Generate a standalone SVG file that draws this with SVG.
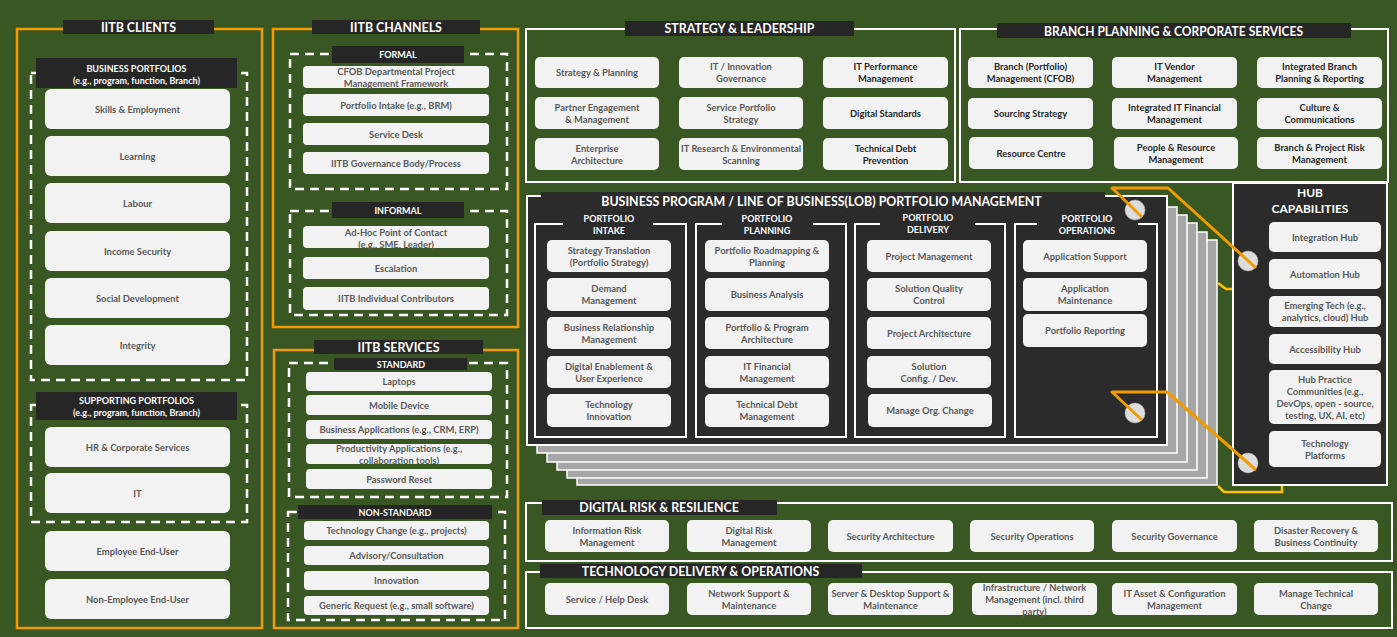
<svg xmlns="http://www.w3.org/2000/svg" width="1397" height="637" viewBox="0 0 1397 637">
<style>
.bg{fill:#385723}
.org{fill:none;stroke:#f29b00;stroke-width:2.5}
.dash{fill:none;stroke:#fff;stroke-width:2.5;stroke-dasharray:9 6}
.wb{fill:none;stroke:#fff;stroke-width:2}
.lbl{fill:#262626}
.dk{fill:#2b2b2b}
.it{fill:#f2f2f2}
text{font-family:Lato,"Liberation Sans",sans-serif;text-anchor:middle}
.t{font-size:9.4px;font-weight:700;fill:#595959}
.td{font-size:9.4px;font-weight:700;fill:#262626}
.h{font-size:12.4px;font-weight:700;fill:#fff}
.hs{font-size:9px;font-weight:700;fill:#fff}
.layer{fill:#a6a6a6;stroke:#fff;stroke-width:1.5}
.conn{fill:none;stroke:#f29b00;stroke-width:3;stroke-linejoin:round}
.brk{fill:none;stroke:#ffc000;stroke-width:2.5}
.dot{fill:#dcdcdc;stroke:#bfbfbf;stroke-width:0.5}
</style>
<rect class="bg" x="0" y="0" width="1397" height="637"/>

<!-- IITB CLIENTS -->
<g id="iitb-clients">
<rect class="org" x="17" y="29" width="245" height="599"/>
<rect class="lbl" x="63" y="20" width="151" height="14"/>
<text class="h" x="138.5" y="31.5">IITB CLIENTS</text>
<rect class="dash" x="31" y="73" width="216" height="307"/>
<rect class="lbl" x="36" y="58" width="201" height="30"/>
<text class="hs" x="136.5" y="71.5">BUSINESS PORTFOLIOS</text>
<text class="hs" x="136.5" y="83.5">(e.g., program, function, Branch)</text>
<rect class="it" x="45" y="89" width="185" height="40" rx="6"/><text class="t" x="137.5" y="112.5">Skills &amp; Employment</text>
<rect class="it" x="45" y="136" width="185" height="40" rx="6"/><text class="t" x="137.5" y="159.5">Learning</text>
<rect class="it" x="45" y="183" width="185" height="40" rx="6"/><text class="t" x="137.5" y="206.5">Labour</text>
<rect class="it" x="45" y="231" width="185" height="40" rx="6"/><text class="t" x="137.5" y="254.5">Income Security</text>
<rect class="it" x="45" y="278" width="185" height="40" rx="6"/><text class="t" x="137.5" y="301.5">Social Development</text>
<rect class="it" x="45" y="325" width="185" height="40" rx="6"/><text class="t" x="137.5" y="348.5">Integrity</text>
<rect class="dash" x="31" y="405" width="216" height="117"/>
<rect class="lbl" x="36" y="392" width="201" height="28"/>
<text class="hs" x="136.5" y="403.5">SUPPORTING PORTFOLIOS</text>
<text class="hs" x="136.5" y="415.5">(e.g., program, function, Branch)</text>
<rect class="it" x="45" y="427" width="185" height="40" rx="6"/><text class="t" x="137.5" y="450.5">HR &amp; Corporate Services</text>
<rect class="it" x="45" y="473" width="185" height="40" rx="6"/><text class="t" x="137.5" y="496.5">IT</text>
<rect class="it" x="45" y="531" width="185" height="40" rx="6"/><text class="t" x="137.5" y="554.5">Employee End-User</text>
<rect class="it" x="45" y="579" width="185" height="40" rx="6"/><text class="t" x="137.5" y="602.5">Non-Employee End-User</text>
</g>

<!-- IITB CHANNELS -->
<g id="iitb-channels">
<rect class="org" x="273" y="29" width="245" height="298"/>
<rect class="lbl" x="312" y="20" width="168" height="14"/>
<text class="h" x="396" y="31.5">IITB CHANNELS</text>
<rect class="dash" x="290" y="54" width="217" height="135"/>
<rect class="lbl" x="332" y="46" width="132" height="17"/>
<text class="hs" x="398" y="58">FORMAL</text>
<rect class="it" x="303" y="66" width="186" height="22" rx="4"/>
<text class="t" x="396" y="74.5">CFOB Departmental Project</text><text class="t" x="396" y="86.5">Management Framework</text>
<rect class="it" x="303" y="94" width="186" height="22" rx="4"/><text class="t" x="396" y="108.5">Portfolio Intake (e.g., BRM)</text>
<rect class="it" x="303" y="123" width="186" height="22" rx="4"/><text class="t" x="396" y="137.5">Service Desk</text>
<rect class="it" x="303" y="152" width="186" height="22" rx="4"/><text class="t" x="396" y="166.5">IITB Governance Body/Process</text>
<rect class="dash" x="290" y="211" width="217" height="104"/>
<rect class="lbl" x="332" y="202" width="132" height="16"/>
<text class="hs" x="398" y="213.5">INFORMAL</text>
<rect class="it" x="303" y="226" width="186" height="22" rx="4"/>
<text class="t" x="396" y="235.5">Ad-Hoc Point of Contact</text><text class="t" x="396" y="247.5">(e.g., SME, Leader)</text>
<rect class="it" x="303" y="257" width="186" height="22" rx="4"/><text class="t" x="396" y="271.5">Escalation</text>
<rect class="it" x="303" y="287" width="186" height="23" rx="4"/><text class="t" x="396" y="302">IITB Individual Contributors</text>
</g>

<!-- IITB SERVICES -->
<g id="iitb-services">
<rect class="org" x="274" y="350" width="244" height="278"/>
<rect class="lbl" x="314" y="340" width="169" height="14"/>
<text class="h" x="398.5" y="351.5">IITB SERVICES</text>
<rect class="dash" x="289" y="363" width="218" height="134"/>
<rect class="lbl" x="334" y="358" width="133" height="12"/>
<text class="hs" x="401" y="367.5">STANDARD</text>
<rect class="it" x="306" y="372" width="186" height="19" rx="4"/><text class="t" x="399" y="385">Laptops</text>
<rect class="it" x="306" y="395" width="186" height="20" rx="4"/><text class="t" x="399" y="408.5">Mobile Device</text>
<rect class="it" x="306" y="420" width="186" height="19" rx="4"/><text class="t" x="399" y="433">Business Applications (e.g., CRM, ERP)</text>
<rect class="it" x="306" y="444" width="186" height="20" rx="4"/>
<text class="t" x="399" y="451.5">Productivity Applications (e.g.,</text><text class="t" x="399" y="463.5">collaboration tools)</text>
<rect class="it" x="306" y="469" width="186" height="20" rx="4"/><text class="t" x="399" y="482.5">Password Reset</text>
<rect class="dash" x="288" y="512" width="217" height="108"/>
<rect class="lbl" x="298" y="505" width="194" height="14"/>
<text class="hs" x="395" y="515.5">NON-STANDARD</text>
<rect class="it" x="304" y="521" width="185" height="19" rx="4"/><text class="t" x="396.5" y="534">Technology Change (e.g., projects)</text>
<rect class="it" x="304" y="546" width="185" height="19" rx="4"/><text class="t" x="396.5" y="559">Advisory/Consultation</text>
<rect class="it" x="304" y="571" width="185" height="19" rx="4"/><text class="t" x="396.5" y="584">Innovation</text>
<rect class="it" x="304" y="596" width="185" height="19" rx="4"/><text class="t" x="396.5" y="609">Generic Request (e.g., small software)</text>
</g>

<!-- STRATEGY & LEADERSHIP -->
<g id="strategy-leadership">
<rect class="wb" x="526" y="29" width="429" height="153"/>
<rect class="lbl" x="625" y="21" width="229" height="15"/>
<text class="h" x="739.5" y="33">STRATEGY &amp; LEADERSHIP</text>
<rect class="it" x="535" y="57" width="124" height="31" rx="5"/><text class="t" x="597" y="76">Strategy &amp; Planning</text>
<rect class="it" x="679" y="57" width="124" height="31" rx="5"/><text class="t" x="741" y="70">IT / Innovation</text><text class="t" x="741" y="82">Governance</text>
<rect class="it" x="823" y="57" width="125" height="31" rx="5"/><text class="td" x="885.5" y="70">IT Performance</text><text class="td" x="885.5" y="82">Management</text>
<rect class="it" x="535" y="97" width="124" height="32" rx="5"/><text class="t" x="597" y="110.5">Partner Engagement</text><text class="t" x="597" y="122.5">&amp; Management</text>
<rect class="it" x="679" y="97" width="124" height="32" rx="5"/><text class="t" x="741" y="110.5">Service Portfolio</text><text class="t" x="741" y="122.5">Strategy</text>
<rect class="it" x="823" y="97" width="125" height="32" rx="5"/><text class="td" x="885.5" y="116.5">Digital Standards</text>
<rect class="it" x="535" y="138" width="124" height="32" rx="5"/><text class="t" x="597" y="151.5">Enterprise</text><text class="t" x="597" y="163.5">Architecture</text>
<rect class="it" x="679" y="138" width="124" height="32" rx="5"/><text class="t" x="741" y="151.5">IT Research &amp; Environmental</text><text class="t" x="741" y="163.5">Scanning</text>
<rect class="it" x="823" y="138" width="125" height="32" rx="5"/><text class="td" x="885.5" y="151.5">Technical Debt</text><text class="td" x="885.5" y="163.5">Prevention</text>
</g>

<!-- BRANCH PLANNING & CORPORATE SERVICES -->
<g id="branch-planning">
<rect class="wb" x="960" y="29" width="428" height="153"/>
<rect class="lbl" x="997" y="23" width="354" height="15"/>
<text class="h" x="1173.5" y="35.5" textLength="259" lengthAdjust="spacingAndGlyphs">BRANCH PLANNING &amp; CORPORATE SERVICES</text>
<rect class="it" x="968" y="57" width="125" height="31" rx="5"/><text class="td" x="1030.5" y="70">Branch (Portfolio)</text><text class="td" x="1030.5" y="82">Management (CFOB)</text>
<rect class="it" x="1112" y="57" width="125" height="31" rx="5"/><text class="td" x="1174.5" y="70">IT Vendor</text><text class="td" x="1174.5" y="82">Management</text>
<rect class="it" x="1257" y="57" width="125" height="31" rx="5"/><text class="td" x="1319.5" y="70">Integrated Branch</text><text class="td" x="1319.5" y="82">Planning &amp; Reporting</text>
<rect class="it" x="968" y="98" width="125" height="31" rx="5"/><text class="td" x="1030.5" y="117">Sourcing Strategy</text>
<rect class="it" x="1112" y="98" width="125" height="31" rx="5"/><text class="td" x="1174.5" y="111">Integrated IT Financial</text><text class="td" x="1174.5" y="123">Management</text>
<rect class="it" x="1257" y="98" width="125" height="31" rx="5"/><text class="td" x="1319.5" y="111">Culture &amp;</text><text class="td" x="1319.5" y="123">Communications</text>
<rect class="it" x="969" y="137" width="124" height="32" rx="5"/><text class="td" x="1031" y="156.5">Resource Centre</text>
<rect class="it" x="1114" y="137" width="124" height="32" rx="5"/><text class="td" x="1176" y="150.5">People &amp; Resource</text><text class="td" x="1176" y="162.5">Management</text>
<rect class="it" x="1257" y="137" width="125" height="32" rx="5"/><text class="td" x="1319.5" y="150.5">Branch &amp; Project Risk</text><text class="td" x="1319.5" y="162.5">Management</text>
</g>

<!-- BUSINESS PROGRAM / LOB PORTFOLIO MANAGEMENT -->
<g id="lob-portfolio-management">
<polyline class="brk" points="1218,283 1226,289 1234,289"/>
<polyline class="brk" points="1218,486 1224,492 1282,492 1282,486"/>
<rect class="layer" x="577" y="240" width="640" height="245"/>
<rect class="layer" x="567" y="232" width="640" height="246"/>
<rect class="layer" x="557" y="223" width="640" height="247"/>
<rect class="layer" x="547" y="215" width="640" height="247"/>
<rect class="layer" x="537" y="207" width="640" height="246"/>
<rect class="dk" x="527" y="196" width="640" height="249" stroke="#fff" stroke-width="2"/>
<rect class="dk" x="541" y="192" width="564" height="17"/>
<text class="h" x="821.5" y="205.5">BUSINESS PROGRAM / LINE OF BUSINESS(LOB) PORTFOLIO MANAGEMENT</text>
</g>

<g id="portfolio-intake">
<rect class="wb" x="535" y="224" width="151" height="213"/>
<rect class="dk" x="563" y="211" width="90" height="26"/>
<text class="hs" x="609" y="222">PORTFOLIO</text><text class="hs" x="609" y="234">INTAKE</text>
<rect class="it" x="547" y="240" width="124" height="32" rx="5"/><text class="t" x="609" y="253.5">Strategy Translation</text><text class="t" x="609" y="265.5">(Portfolio Strategy)</text>
<rect class="it" x="547" y="278" width="124" height="33" rx="5"/><text class="t" x="609" y="292">Demand</text><text class="t" x="609" y="304">Management</text>
<rect class="it" x="547" y="317" width="124" height="32" rx="5"/><text class="t" x="609" y="330.5">Business Relationship</text><text class="t" x="609" y="342.5">Management</text>
<rect class="it" x="547" y="356" width="124" height="32" rx="5"/><text class="t" x="609" y="369.5">Digital Enablement &amp;</text><text class="t" x="609" y="381.5">User Experience</text>
<rect class="it" x="547" y="394" width="124" height="33" rx="5"/><text class="t" x="609" y="408">Technology</text><text class="t" x="609" y="420">Innovation</text>
</g>

<g id="portfolio-planning">
<rect class="wb" x="696" y="224" width="150" height="213"/>
<rect class="dk" x="722" y="211" width="91" height="26"/>
<text class="hs" x="767" y="222">PORTFOLIO</text><text class="hs" x="767" y="234">PLANNING</text>
<rect class="it" x="705" y="240" width="124" height="32" rx="5"/><text class="t" x="767" y="253.5">Portfolio Roadmapping &amp;</text><text class="t" x="767" y="265.5">Planning</text>
<rect class="it" x="705" y="278" width="124" height="33" rx="5"/><text class="t" x="767" y="298">Business Analysis</text>
<rect class="it" x="705" y="317" width="124" height="32" rx="5"/><text class="t" x="767" y="330.5">Portfolio &amp; Program</text><text class="t" x="767" y="342.5">Architecture</text>
<rect class="it" x="705" y="356" width="124" height="32" rx="5"/><text class="t" x="767" y="369.5">IT Financial</text><text class="t" x="767" y="381.5">Management</text>
<rect class="it" x="705" y="394" width="124" height="33" rx="5"/><text class="t" x="767" y="408">Technical Debt</text><text class="t" x="767" y="420">Management</text>
</g>

<g id="portfolio-delivery">
<rect class="wb" x="855" y="224" width="150" height="213"/>
<rect class="dk" x="880" y="211" width="95" height="26"/>
<text class="hs" x="928" y="221">PORTFOLIO</text><text class="hs" x="928" y="233">DELIVERY</text>
<rect class="it" x="867" y="240" width="124" height="32" rx="5"/><text class="t" x="929" y="259.5">Project Management</text>
<rect class="it" x="867" y="278" width="124" height="33" rx="5"/><text class="t" x="929" y="292">Solution Quality</text><text class="t" x="929" y="304">Control</text>
<rect class="it" x="867" y="317" width="124" height="32" rx="5"/><text class="t" x="929" y="336.5">Project Architecture</text>
<rect class="it" x="867" y="356" width="124" height="32" rx="5"/><text class="t" x="929" y="369.5">Solution</text><text class="t" x="929" y="381.5">Config. / Dev.</text>
<rect class="it" x="868" y="394" width="124" height="33" rx="5"/><text class="t" x="930" y="414">Manage Org. Change</text>
</g>

<g id="portfolio-operations">
<rect class="wb" x="1015" y="224" width="142" height="213"/>
<rect class="dk" x="1037" y="211" width="101" height="26"/>
<text class="hs" x="1087" y="222">PORTFOLIO</text><text class="hs" x="1087" y="234">OPERATIONS</text>
<rect class="it" x="1023" y="240" width="124" height="32" rx="5"/><text class="t" x="1085" y="259.5">Application Support</text>
<rect class="it" x="1023" y="278" width="124" height="33" rx="5"/><text class="t" x="1085" y="292">Application</text><text class="t" x="1085" y="304">Maintenance</text>
<rect class="it" x="1023" y="314" width="124" height="33" rx="5"/><text class="t" x="1085" y="334">Portfolio Reporting</text>
</g>

<!-- HUB CAPABILITIES -->
<g id="hub-capabilities">
<rect class="dk" x="1233" y="183" width="154" height="302" stroke="#fff" stroke-width="2"/>
<text class="h" x="1310" y="197" style="font-size:12px">HUB</text>
<text class="h" x="1310" y="213" style="font-size:12px">CAPABILITIES</text>
<rect class="it" x="1269" y="222" width="112" height="30" rx="5"/><text class="t" x="1325" y="240.5">Integration Hub</text>
<rect class="it" x="1269" y="259" width="112" height="30" rx="5"/><text class="t" x="1325" y="277.5">Automation Hub</text>
<rect class="it" x="1269" y="296" width="112" height="31" rx="5"/><text class="t" x="1325" y="309">Emerging Tech (e.g.,</text><text class="t" x="1325" y="321">analytics, cloud) Hub</text>
<rect class="it" x="1269" y="334" width="112" height="30" rx="5"/><text class="t" x="1325" y="352.5">Accessibility Hub</text>
<rect class="it" x="1269" y="370" width="112" height="54" rx="5"/>
<text class="t" x="1325" y="382.5">Hub Practice</text><text class="t" x="1325" y="394.5">Communities (e.g.,</text><text class="t" x="1325" y="406.5">DevOps, open - source,</text><text class="t" x="1325" y="418.5">testing, UX, AI, etc)</text>
<rect class="it" x="1269" y="431" width="112" height="36" rx="5"/><text class="t" x="1325" y="446.5">Technology</text><text class="t" x="1325" y="458.5">Platforms</text>
</g>

<!-- DIGITAL RISK & RESILIENCE -->
<g id="digital-risk-resilience">
<rect class="wb" x="526" y="503" width="866" height="58"/>
<rect class="lbl" x="542" y="500" width="235" height="15"/>
<text class="h" x="659" y="512">DIGITAL RISK &amp; RESILIENCE</text>
<rect class="it" x="545" y="520" width="124" height="32" rx="5"/><text class="t" x="607" y="533.5">Information Risk</text><text class="t" x="607" y="545.5">Management</text>
<rect class="it" x="687" y="520" width="124" height="32" rx="5"/><text class="t" x="749" y="533.5">Digital Risk</text><text class="t" x="749" y="545.5">Management</text>
<rect class="it" x="828" y="520" width="125" height="32" rx="5"/><text class="t" x="890.5" y="539.5">Security Architecture</text>
<rect class="it" x="970" y="520" width="124" height="32" rx="5"/><text class="t" x="1032" y="539.5">Security Operations</text>
<rect class="it" x="1112" y="520" width="125" height="32" rx="5"/><text class="t" x="1174.5" y="539.5">Security Governance</text>
<rect class="it" x="1254" y="520" width="124" height="32" rx="5"/><text class="t" x="1316" y="533.5">Disaster Recovery &amp;</text><text class="t" x="1316" y="545.5">Business Continuity</text>
</g>

<!-- TECHNOLOGY DELIVERY & OPERATIONS -->
<g id="technology-delivery-operations">
<rect class="wb" x="526" y="572" width="866" height="56"/>
<rect class="lbl" x="540" y="564" width="322" height="14"/>
<text class="h" x="700.5" y="575.5">TECHNOLOGY DELIVERY &amp; OPERATIONS</text>
<rect class="it" x="545" y="583" width="124" height="32" rx="5"/><text class="t" x="607" y="602.5">Service / Help Desk</text>
<rect class="it" x="687" y="583" width="124" height="32" rx="5"/><text class="t" x="749" y="596.5">Network Support &amp;</text><text class="t" x="749" y="608.5">Maintenance</text>
<rect class="it" x="828" y="583" width="125" height="32" rx="5"/><text class="t" x="890.5" y="596.5">Server &amp; Desktop Support &amp;</text><text class="t" x="890.5" y="608.5">Maintenance</text>
<rect class="it" x="972" y="583" width="125" height="32" rx="5"/><text class="t" x="1034.5" y="591">Infrastructure / Network</text><text class="t" x="1034.5" y="603">Management (incl. third</text><text class="t" x="1034.5" y="615">party)</text>
<rect class="it" x="1112" y="583" width="125" height="32" rx="5"/><text class="t" x="1174.5" y="596.5">IT Asset &amp; Configuration</text><text class="t" x="1174.5" y="608.5">Management</text>
<rect class="it" x="1254" y="583" width="124" height="32" rx="5"/><text class="t" x="1316" y="596.5">Manage Technical</text><text class="t" x="1316" y="608.5">Change</text>
</g>

<!-- connectors -->
<g id="connectors">
<circle class="dot" cx="1135" cy="210" r="10"/>
<circle class="dot" cx="1248" cy="261" r="10"/>
<circle class="dot" cx="1135" cy="413" r="10"/>
<circle class="dot" cx="1248" cy="463" r="10"/>
<polyline class="conn" points="1142,217 1112,188 1168,188 1256,268"/>
<polyline class="conn" points="1142,420 1112,392 1167,392 1256,470"/>
</g>
</svg>
